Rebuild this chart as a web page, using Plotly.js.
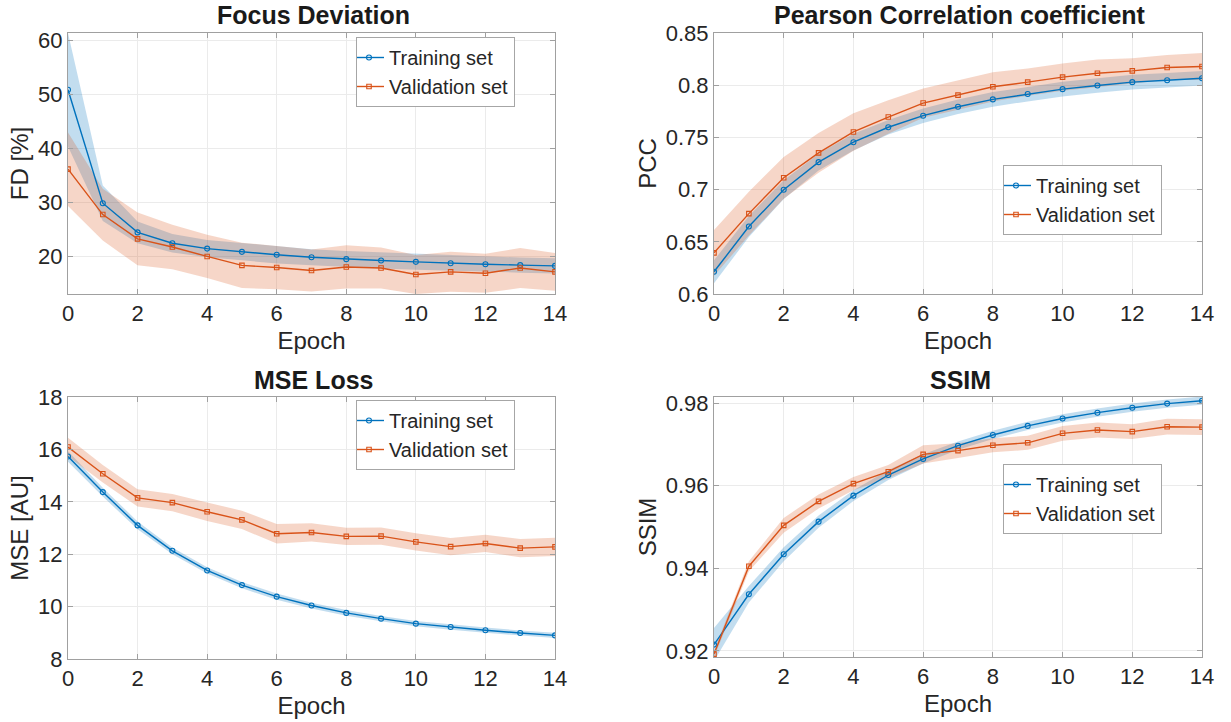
<!DOCTYPE html>
<html>
<head>
<meta charset="utf-8">
<script src="https://cdn.plot.ly/plotly-3.0.1.min.js"></script>
<style>
  html, body { margin: 0; padding: 0; background: #ffffff; }
  #chart { width: 1231px; height: 722px; }
</style>
</head>
<body>
<div id="chart"></div>
<script>
// ---------------- data ----------------
const epochs = [0,1,2,3,4,5,6,7,8,9,10,11,12,13,14];
const xTickVals = [0,2,4,6,8,10,12,14];

const fdTrain    = [50.8,29.8,24.4,22.4,21.4,20.8,20.25,19.8,19.45,19.2,18.95,18.7,18.5,18.35,18.2];
const fdTrainStd = [10.5,3.3,2.0,1.7,1.6,1.6,1.6,1.5,1.5,1.5,1.45,1.45,1.4,1.4,1.4];
const fdVal      = [36.1,27.7,23.2,21.7,19.95,18.3,17.9,17.35,18.0,17.8,16.6,17.1,16.85,17.8,17.1];
const fdValStd   = [6.8,4.8,4.9,4.1,4.0,4.2,4.0,3.9,4.0,3.8,3.6,3.7,3.6,3.7,3.5];

const pccTrain    = [0.6213,0.6646,0.6999,0.7263,0.7454,0.7597,0.7708,0.7794,0.7864,0.7915,0.7962,0.7997,0.8029,0.8048,0.8067];
const pccTrainStd = [0.011,0.010,0.009,0.008,0.008,0.007,0.007,0.007,0.007,0.007,0.007,0.007,0.007,0.007,0.007];
const pccVal      = [0.6394,0.6770,0.7113,0.7352,0.7552,0.7695,0.7829,0.7905,0.7985,0.8029,0.8077,0.8115,0.8137,0.8169,0.8179];
const pccValStd   = [0.022,0.021,0.020,0.019,0.018,0.016,0.014,0.014,0.014,0.013,0.013,0.013,0.012,0.012,0.013];

const mseTrain    = [15.73,14.37,13.10,12.13,11.38,10.82,10.38,10.04,9.76,9.54,9.35,9.22,9.10,8.99,8.90];
const mseTrainStd = [0.20,0.17,0.15,0.13,0.12,0.12,0.12,0.11,0.11,0.10,0.10,0.10,0.10,0.10,0.10];
const mseVal      = [16.09,15.07,14.15,13.97,13.62,13.31,12.78,12.83,12.68,12.69,12.47,12.29,12.41,12.23,12.28];
const mseValStd   = [0.35,0.33,0.33,0.33,0.35,0.35,0.37,0.35,0.33,0.33,0.33,0.33,0.33,0.35,0.35];

const ssimTrain    = [0.9215,0.9337,0.9434,0.9513,0.9576,0.9626,0.9665,0.9697,0.9723,0.9745,0.9763,0.9777,0.9789,0.9799,0.9806];
const ssimTrainStd = [0.004,0.002,0.0017,0.0015,0.0013,0.0012,0.0011,0.001,0.001,0.001,0.001,0.001,0.001,0.001,0.001];
const ssimVal      = [0.9192,0.9405,0.9504,0.9562,0.9605,0.9634,0.9676,0.9685,0.9698,0.9704,0.9727,0.9735,0.9731,0.9743,0.9742];
const ssimValStd   = [0.0008,0.0012,0.0018,0.0017,0.0016,0.0016,0.0022,0.0018,0.0017,0.0017,0.0018,0.0018,0.0018,0.0019,0.0019];

const panelTitles = ["Focus Deviation", "Pearson Correlation coefficient", "MSE Loss", "SSIM"];
const yTitles = ["FD [%]", "PCC", "MSE [AU]", "SSIM"];
const seriesNames = ["Training set", "Validation set"];

const fdTicks   = [20,30,40,50,60];
const pccTicks  = [0.6,0.65,0.7,0.75,0.8,0.85];
const pccTickText = ["0.6","0.65","0.7","0.75","0.8","0.85"];
const mseTicks  = [8,10,12,14,16,18];
const ssimTicks = [0.92,0.94,0.96,0.98];
const ssimTickText = ["0.92","0.94","0.96","0.98"];

// ---------------- style ----------------
const BLUE = "#0072BD";
const ORANGE = "#D95319";
const BLUE_FILL = "rgba(0,114,189,0.24)";
const ORANGE_FILL = "rgba(217,83,25,0.24)";
const FONT = "Liberation Sans, Arial, Helvetica, sans-serif";
const W = 1231, H = 722;

function band(mean, sd, color, xa, ya) {
  const up = mean.map((m, i) => m + sd[i]);
  const lo = mean.map((m, i) => m - sd[i]);
  return {
    x: epochs.concat(epochs.slice().reverse()),
    y: up.concat(lo.slice().reverse()),
    type: "scatter", mode: "lines", fill: "toself", fillcolor: color,
    line: {width: 0, color: color}, hoverinfo: "skip", showlegend: false,
    xaxis: xa, yaxis: ya
  };
}
function line(mean, name, color, symbol, size, xa, ya, leg) {
  return {
    x: epochs, y: mean, name: name, type: "scatter", mode: "lines+markers",
    line: {color: color, width: 1.4},
    marker: {symbol: symbol, size: size, color: color, line: {width: 1.1, color: color}},
    xaxis: xa, yaxis: ya, legend: leg
  };
}

const panels = [
  {tr: fdTrain, trs: fdTrainStd, va: fdVal, vas: fdValStd, xa: "x", ya: "y", leg: "legend"},
  {tr: pccTrain, trs: pccTrainStd, va: pccVal, vas: pccValStd, xa: "x2", ya: "y2", leg: "legend2"},
  {tr: mseTrain, trs: mseTrainStd, va: mseVal, vas: mseValStd, xa: "x3", ya: "y3", leg: "legend3"},
  {tr: ssimTrain, trs: ssimTrainStd, va: ssimVal, vas: ssimValStd, xa: "x4", ya: "y4", leg: "legend4"}
];

const data = [];
panels.forEach(p => {
  data.push(band(p.tr, p.trs, BLUE_FILL, p.xa, p.ya));
  data.push(band(p.va, p.vas, ORANGE_FILL, p.xa, p.ya));
});
panels.forEach(p => {
  data.push(line(p.tr, seriesNames[0], BLUE, "circle-open", 5, p.xa, p.ya, p.leg));
  data.push(line(p.va, seriesNames[1], ORANGE, "square-open", 4.5, p.xa, p.ya, p.leg));
});

// pixel -> paper helpers
const px = v => v / W;
const py = v => 1 - v / H;

function xAxis(domain, anchor) {
  return {
    domain: domain, anchor: anchor, range: [0, 14], tickvals: xTickVals,
    showgrid: true, gridcolor: "#ebebeb", gridwidth: 1,
    showline: true, linecolor: "#a0a0a0", linewidth: 1, mirror: "ticks",
    ticks: "inside", ticklen: 5, tickcolor: "#a0a0a0",
    tickfont: {family: FONT, size: 22, color: "#262626"},
    title: {text: "Epoch", font: {family: FONT, size: 24, color: "#262626"}, standoff: 6},
    zeroline: false, automargin: false
  };
}
function yAxis(domain, anchor, range, vals, text, title) {
  const ax = {
    domain: domain, anchor: anchor, range: range, tickvals: vals,
    showgrid: true, gridcolor: "#ebebeb", gridwidth: 1,
    showline: true, linecolor: "#a0a0a0", linewidth: 1, mirror: "ticks",
    ticks: "inside", ticklen: 5, tickcolor: "#a0a0a0",
    tickfont: {family: FONT, size: 22, color: "#262626"},
    title: {text: title, font: {family: FONT, size: 24, color: "#262626"}, standoff: 2},
    zeroline: false, automargin: false
  };
  if (text) ax.ticktext = text;
  return ax;
}

const leftX = [px(68), px(555)];
const rightX = [px(714), px(1202)];
const topY = [py(294), py(33)];
const botYL = [py(659), py(397)];
const botYR = [py(657), py(397)];

function legendAt(xPix, yPix) {
  return {
    x: px(xPix), y: py(yPix), xanchor: "left", yanchor: "top",
    bgcolor: "#ffffff", bordercolor: "#a6a6a6", borderwidth: 1,
    font: {family: FONT, size: 20, color: "#262626"},
    itemwidth: 30, indentation: -8, tracegroupgap: 0, traceorder: "normal"
  };
}

const titleAnn = (text, xc, yc) => ({
  text: "<b>" + text + "</b>", x: px(xc), y: py(yc), xref: "paper", yref: "paper",
  xanchor: "center", yanchor: "middle", showarrow: false,
  font: {family: FONT, size: 25, color: "#1a1a1a"}
});

const layout = {
  width: W, height: H,
  margin: {l: 0, r: 0, t: 0, b: 0},
  paper_bgcolor: "#ffffff", plot_bgcolor: "#ffffff",
  font: {family: FONT, color: "#262626"},
  xaxis: xAxis(leftX, "y"),
  yaxis: yAxis(topY, "x", [13, 61.3], fdTicks, null, yTitles[0]),
  xaxis2: xAxis(rightX, "y2"),
  yaxis2: yAxis(topY, "x2", [0.6, 0.85], pccTicks, pccTickText, yTitles[1]),
  xaxis3: xAxis(leftX, "y3"),
  yaxis3: yAxis(botYL, "x3", [8, 18], mseTicks, null, yTitles[2]),
  xaxis4: xAxis(rightX, "y4"),
  yaxis4: yAxis(botYR, "x4", [0.9185, 0.9815], ssimTicks, ssimTickText, yTitles[3]),
  legend: legendAt(356, 37),
  legend2: legendAt(1003, 165),
  legend3: legendAt(356, 400),
  legend4: legendAt(1003, 464),
  annotations: [
    titleAnn(panelTitles[0], 313, 15),
    titleAnn(panelTitles[1], 960, 15),
    titleAnn(panelTitles[2], 313, 380),
    titleAnn(panelTitles[3], 960, 380)
  ],
  showlegend: true
};

Plotly.newPlot("chart", data, layout, {displayModeBar: false, staticPlot: true});
</script>
</body>
</html>
